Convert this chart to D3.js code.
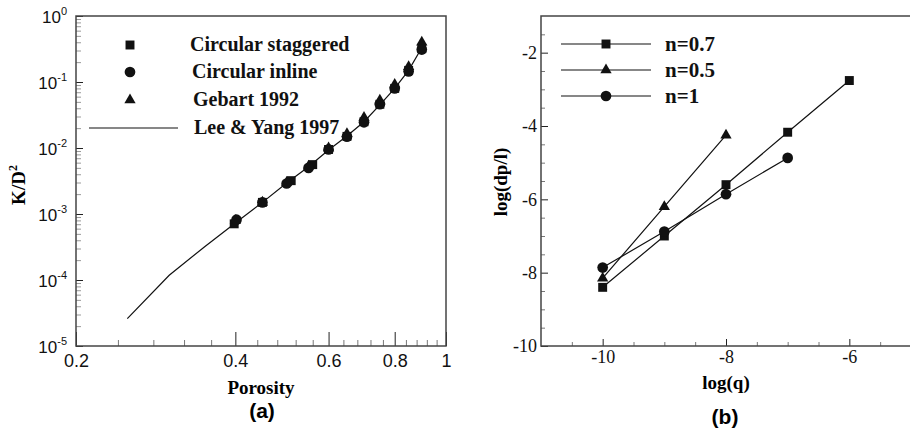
<!DOCTYPE html>
<html>
<head>
<meta charset="utf-8">
<script src="https://cdn.jsdelivr.net/npm/d3@7"></script>
<style>
  body { margin: 0; background: #fff; }
</style>
</head>
<body>
<div id="chart"></div>
<script>
// ---- data, panel (a) ----
const porosityLine = [0.25, 0.3, 0.35, 0.4, 0.45, 0.5, 0.55, 0.6, 0.65, 0.7, 0.75, 0.8, 0.85, 0.9];
const leeYang = [2.6e-5, 1.18e-4, 3.2e-4, 7.3e-4, 1.5e-3, 2.95e-3, 5.2e-3, 9.3e-3, 0.0152, 0.025, 0.045, 0.08, 0.15, 0.33];

const porosityStaggered = [0.398, 0.45, 0.51, 0.56, 0.6, 0.65, 0.7, 0.75, 0.8, 0.85, 0.9];
const staggered = [7.1e-4, 1.5e-3, 3.2e-3, 5.6e-3, 9.5e-3, 0.015, 0.025, 0.046, 0.08, 0.15, 0.32];

const porosityInline = [0.402, 0.45, 0.5, 0.55, 0.6, 0.65, 0.7, 0.75, 0.8, 0.85, 0.9];
const inline = [8.2e-4, 1.5e-3, 2.9e-3, 5.0e-3, 9.5e-3, 0.0148, 0.0245, 0.046, 0.08, 0.145, 0.31];

const porosityGebart = [0.4, 0.45, 0.5, 0.55, 0.6, 0.65, 0.7, 0.75, 0.8, 0.85, 0.9];
const gebart = [8.0e-4, 1.5e-3, 3.0e-3, 5.3e-3, 1.0e-2, 0.0165, 0.029, 0.053, 0.092, 0.17, 0.40];

const xTicksA = [0.2, 0.4, 0.6, 0.8, 1];
const yTicksA = [1e-5, 1e-4, 1e-3, 1e-2, 1e-1, 1];
const legendA = ["Circular staggered", "Circular inline", "Gebart 1992", "Lee & Yang 1997"];

// ---- data, panel (b) ----
const logq07 = [-10, -9, -8, -7, -6];
const n07 = [-8.4, -7.0, -5.6, -4.17, -2.76];
const logq05 = [-10, -9, -8];
const n05 = [-8.15, -6.2, -4.25];
const logq1 = [-10, -9, -8, -7];
const n1 = [-7.86, -6.88, -5.86, -4.87];

const xTicksB = [-10, -8, -6];
const yTicksB = [-10, -8, -6, -4, -2];
const legendB = ["n=0.7", "n=0.5", "n=1"];

const W = 910, H = 435;
const serif = "'Liberation Serif', 'Times New Roman', serif";
const sans = "'Liberation Sans', Arial, sans-serif";

const svg = d3.select("#chart")
  .append("svg")
  .attr("width", W)
  .attr("height", H);

svg.append("rect").attr("width", W).attr("height", H).attr("fill", "#fff");

const symSquare = d3.symbol().type(d3.symbolSquare).size(80);
const symCircle = d3.symbol().type(d3.symbolCircle).size(90);
const symTriangle = d3.symbol().type(d3.symbolTriangle).size(55);

// =============== panel (a) ===============
const a = { left: 76, top: 16, width: 370, height: 330 };
const gA = svg.append("g").attr("transform", `translate(${a.left},${a.top})`);

const xA = d3.scaleLog().domain([0.2, 1]).range([0, a.width]);
const yA = d3.scaleLog().domain([1e-5, 1]).range([a.height, 0]);

// minor ticks on x: every 0.04
const xMinorA = d3.range(0.24, 0.99, 0.04).filter(v => !xTicksA.some(t => Math.abs(t - v) < 1e-6));
gA.append("g")
  .attr("transform", `translate(0,${a.height})`)
  .call(d3.axisBottom(xA).tickValues(xMinorA).tickSize(-6).tickFormat(""))
  .call(g => g.select(".domain").remove())
  .call(g => g.selectAll("line").attr("stroke", "#777"));

gA.append("g")
  .attr("transform", `translate(0,${a.height})`)
  .call(d3.axisBottom(xA).tickValues(xTicksA).tickSize(-14).tickPadding(0).tickFormat(d3.format("")))
  .call(g => g.select(".domain").remove())
  .call(g => g.selectAll("line").attr("stroke", "#222"))
  .call(g => g.selectAll("text")
    .attr("y", 21)
    .attr("dy", 0)
    .attr("font-family", sans)
    .attr("font-size", 18)
    .attr("fill", "#111"));

// minor ticks on y: 2..9 per decade
const yMinorA = [];
for (let e = -5; e < 0; e++) for (let m = 2; m <= 9; m++) yMinorA.push(m * Math.pow(10, e));
gA.append("g")
  .call(d3.axisLeft(yA).tickValues(yMinorA).tickSize(-5).tickFormat(""))
  .call(g => g.select(".domain").remove())
  .call(g => g.selectAll("line").attr("stroke", "#999"));

const yAxisA = gA.append("g")
  .call(d3.axisLeft(yA).tickValues(yTicksA).tickSize(-7).tickFormat(""))
  .call(g => g.select(".domain").remove())
  .call(g => g.selectAll("line").attr("stroke", "#222"));

// y labels as 10 with superscript exponent
yAxisA.selectAll(".tick").append("text")
  .attr("x", -9)
  .attr("y", 6)
  .attr("text-anchor", "end")
  .attr("font-family", sans)
  .attr("font-size", 17)
  .attr("fill", "#111")
  .each(function(d) {
    const t = d3.select(this);
    t.append("tspan").text("10");
    t.append("tspan")
      .attr("dy", -8)
      .attr("font-size", 11)
      .text(Math.round(Math.log10(d)));
  });

// frame
gA.append("rect")
  .attr("width", a.width)
  .attr("height", a.height)
  .attr("fill", "none")
  .attr("stroke", "#444")
  .attr("stroke-width", 1.5);

// Lee & Yang line
const lineA = d3.line()
  .x(d => xA(d[0]))
  .y(d => yA(d[1]));

gA.append("path")
  .datum(porosityLine.map((p, i) => [p, leeYang[i]]))
  .attr("d", lineA)
  .attr("fill", "none")
  .attr("stroke", "#111")
  .attr("stroke-width", 1.2);

// markers
gA.selectAll(".sq")
  .data(porosityStaggered.map((p, i) => [p, staggered[i]]))
  .join("path")
  .attr("d", symSquare)
  .attr("transform", d => `translate(${xA(d[0])},${yA(d[1])})`)
  .attr("fill", "#111");

gA.selectAll(".tri")
  .data(porosityGebart.map((p, i) => [p, gebart[i]]))
  .join("path")
  .attr("d", symTriangle)
  .attr("transform", d => `translate(${xA(d[0])},${yA(d[1])})`)
  .attr("fill", "#111");

gA.selectAll(".circ")
  .data(porosityInline.map((p, i) => [p, inline[i]]))
  .join("path")
  .attr("d", symCircle)
  .attr("transform", d => `translate(${xA(d[0])},${yA(d[1])})`)
  .attr("fill", "#111");

// legend (a)
const legA = svg.append("g");
const legAy = [45, 72, 100, 128];
const legAx = [190, 192, 193, 194];
[symSquare, symCircle, symTriangle].forEach((s, i) => {
  legA.append("path")
    .attr("d", s)
    .attr("transform", `translate(130,${legAy[i]})`)
    .attr("fill", "#111");
});
legA.append("line")
  .attr("x1", 89).attr("x2", 178)
  .attr("y1", legAy[3]).attr("y2", legAy[3])
  .attr("stroke", "#111")
  .attr("stroke-width", 1.2);
legendA.forEach((name, i) => {
  legA.append("text")
    .attr("x", legAx[i])
    .attr("y", legAy[i])
    .attr("dy", "0.32em")
    .attr("font-family", serif)
    .attr("font-weight", "bold")
    .attr("font-size", 20)
    .attr("fill", "#111")
    .text(name);
});

// axis titles (a)
svg.append("text")
  .attr("x", a.left + a.width / 2)
  .attr("y", 394)
  .attr("text-anchor", "middle")
  .attr("font-family", serif)
  .attr("font-weight", "bold")
  .attr("font-size", 19)
  .text("Porosity");

const yTitleA = svg.append("text")
  .attr("transform", "translate(25,185) rotate(-90)")
  .attr("text-anchor", "middle")
  .attr("font-family", serif)
  .attr("font-weight", "bold")
  .attr("font-size", 19);
yTitleA.append("tspan").text("K/D");
yTitleA.append("tspan").attr("dy", -8).attr("font-size", 12).text("2");

svg.append("text")
  .attr("x", 262)
  .attr("y", 418)
  .attr("text-anchor", "middle")
  .attr("font-family", sans)
  .attr("font-weight", "bold")
  .attr("font-size", 21)
  .text("(a)");

// =============== panel (b) ===============
const b = { left: 541, top: 16, width: 370, height: 330 };
const gB = svg.append("g").attr("transform", `translate(${b.left},${b.top})`);

const xB = d3.scaleLinear().domain([-11, -5]).range([0, b.width]);
const yB = d3.scaleLinear().domain([-10, -1]).range([b.height, 0]);

const xMinorB = d3.range(-10.5, -5, 0.5).filter(v => !xTicksB.includes(v));
gB.append("g")
  .attr("transform", `translate(0,${b.height})`)
  .call(d3.axisBottom(xB).tickValues(xMinorB).tickSize(-4).tickFormat(""))
  .call(g => g.select(".domain").remove())
  .call(g => g.selectAll("line").attr("stroke", "#777"));

gB.append("g")
  .attr("transform", `translate(0,${b.height})`)
  .call(d3.axisBottom(xB).tickValues(xTicksB).tickSize(-7).tickFormat(d3.format("")))
  .call(g => g.select(".domain").remove())
  .call(g => g.selectAll("line").attr("stroke", "#222"))
  .call(g => g.selectAll("text")
    .attr("y", 17)
    .attr("dy", 0)
    .attr("font-family", serif)
    .attr("font-size", 18)
    .attr("fill", "#111")
    .text(d => d3.format("")(d).replace("−", "-")));

const yMinorB = d3.range(-9.5, -1, 0.5).filter(v => !yTicksB.includes(v));
gB.append("g")
  .call(d3.axisLeft(yB).tickValues(yMinorB).tickSize(-4).tickFormat(""))
  .call(g => g.select(".domain").remove())
  .call(g => g.selectAll("line").attr("stroke", "#777"));

gB.append("g")
  .call(d3.axisLeft(yB).tickValues(yTicksB).tickSize(-7).tickPadding(4))
  .call(g => g.select(".domain").remove())
  .call(g => g.selectAll("line").attr("stroke", "#222"))
  .call(g => g.selectAll("text")
    .attr("font-family", serif)
    .attr("font-size", 18)
    .attr("fill", "#111")
    .text(d => String(d)));

// frame
gB.append("rect")
  .attr("width", b.width)
  .attr("height", b.height)
  .attr("fill", "none")
  .attr("stroke", "#444")
  .attr("stroke-width", 1.5);

const lineB = d3.line()
  .x(d => xB(d[0]))
  .y(d => yB(d[1]));

const seriesB = [
  { x: logq07, y: n07, sym: symSquare },
  { x: logq05, y: n05, sym: symTriangle },
  { x: logq1, y: n1, sym: symCircle }
];

seriesB.forEach(s => {
  const pts = s.x.map((q, i) => [q, s.y[i]]);
  gB.append("path")
    .datum(pts)
    .attr("d", lineB)
    .attr("fill", "none")
    .attr("stroke", "#111")
    .attr("stroke-width", 1.2);
  gB.append("g").selectAll("path")
    .data(pts)
    .join("path")
    .attr("d", s.sym)
    .attr("transform", d => `translate(${xB(d[0])},${yB(d[1])})`)
    .attr("fill", "#111");
});

// legend (b)
const legB = svg.append("g");
const legBy = [44, 70, 96];
seriesB.forEach((s, i) => {
  legB.append("line")
    .attr("x1", 561).attr("x2", 651)
    .attr("y1", legBy[i]).attr("y2", legBy[i])
    .attr("stroke", "#111")
    .attr("stroke-width", 1.2);
  legB.append("path")
    .attr("d", s.sym)
    .attr("transform", `translate(606,${legBy[i]})`)
    .attr("fill", "#111");
  legB.append("text")
    .attr("x", 665)
    .attr("y", legBy[i])
    .attr("dy", "0.32em")
    .attr("font-family", serif)
    .attr("font-weight", "bold")
    .attr("font-size", 21)
    .attr("fill", "#111")
    .text(legendB[i]);
});

// axis titles (b)
svg.append("text")
  .attr("x", 726)
  .attr("y", 389)
  .attr("text-anchor", "middle")
  .attr("font-family", serif)
  .attr("font-weight", "bold")
  .attr("font-size", 19)
  .text("log(q)");

svg.append("text")
  .attr("transform", "translate(507,182) rotate(-90)")
  .attr("text-anchor", "middle")
  .attr("font-family", serif)
  .attr("font-weight", "bold")
  .attr("font-size", 19)
  .text("log(dp/l)");

svg.append("text")
  .attr("x", 725)
  .attr("y", 424)
  .attr("text-anchor", "middle")
  .attr("font-family", sans)
  .attr("font-weight", "bold")
  .attr("font-size", 21)
  .text("(b)");
</script>
</body>
</html>
